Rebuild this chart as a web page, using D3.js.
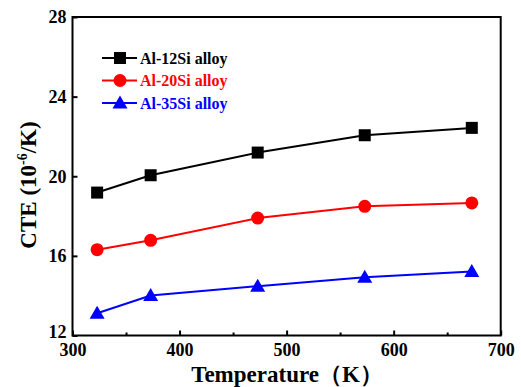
<!DOCTYPE html>
<html><head><meta charset="utf-8">
<script src="https://cdn.jsdelivr.net/npm/d3@7"></script>
<style>body{margin:0;background:#fff}svg{display:block}</style>
</head><body>
<svg id="c" width="521" height="387"></svg>
<script>
const temps = [323, 373, 473, 573, 673];
const al12 = [19.18, 20.05, 21.19, 22.06, 22.43];
const al20 = [16.31, 16.78, 17.90, 18.49, 18.66];
const al35 = [13.12, 14.01, 14.48, 14.93, 15.22];
const seriesNames = ["Al-12Si alloy", "Al-20Si alloy", "Al-35Si alloy"];
const xTicks = [300, 400, 500, 600, 700];
const yTicks = [12, 16, 20, 24, 28];

const svg = d3.select("#c");
const L = 72.5, R = 500.7, T = 17, B = 335.5;
const x = d3.scaleLinear().domain([300, 700]).range([L, R]);
const y = d3.scaleLinear().domain([12, 28]).range([B, T]);
const font = "'Liberation Serif','DejaVu Serif','Times New Roman',serif";

const series = [
  {name: seriesNames[0], vals: al12, color: "#000000", shape: "square"},
  {name: seriesNames[1], vals: al20, color: "#ff0000", shape: "circle"},
  {name: seriesNames[2], vals: al35, color: "#0000ff", shape: "triangle"}
];

function marker(g, shape, cx, cy, color) {
  if (shape === "square") g.append("rect").attr("x", cx-6).attr("y", cy-6).attr("width", 12).attr("height", 12).attr("fill", color);
  else if (shape === "circle") g.append("circle").attr("cx", cx).attr("cy", cy).attr("r", 6.5).attr("fill", color);
  else g.append("path").attr("d", `M${cx},${cy-7.5}L${cx+7.5},${cy+5.5}L${cx-7.5},${cy+5.5}Z`).attr("fill", color);
}

// axes frame
svg.append("rect").attr("x", L).attr("y", T).attr("width", R-L).attr("height", B-T)
  .attr("fill", "none").attr("stroke", "#000").attr("stroke-width", 2);

// x axis ticks (inward)
const xAxis = d3.axisBottom(x).tickValues(xTicks).tickSize(-5).tickFormat(d3.format("d")).tickPadding(8);
const gx = svg.append("g").attr("transform", `translate(0,${B})`).call(xAxis);
gx.select(".domain").remove();
gx.selectAll(".tick line").attr("stroke-width", 2);
gx.selectAll("text").attr("font-family", font).attr("font-weight", "bold").attr("font-size", 18).attr("fill", "#000");
const gxm = svg.append("g").attr("transform", `translate(0,${B})`)
  .call(d3.axisBottom(x).tickValues([350, 450, 550, 650]).tickSize(-3).tickFormat(""));
gxm.select(".domain").remove();
gxm.selectAll(".tick line").attr("stroke-width", 2);

// y axis ticks
const yAxis = d3.axisLeft(y).tickValues(yTicks).tickSize(-5).tickFormat(d3.format("d")).tickPadding(6);
const gy = svg.append("g").attr("transform", `translate(${L},0)`).call(yAxis);
gy.select(".domain").remove();
gy.selectAll(".tick line").attr("stroke-width", 2);
gy.selectAll("text").attr("font-family", font).attr("font-weight", "bold").attr("font-size", 18).attr("fill", "#000");
gy.selectAll(".tick").filter(d => d === 12).select("text").attr("dy", "0.1em");

// lines and markers
const line = d3.line().x((d, i) => x(temps[i])).y(d => y(d));
series.forEach(s => {
  svg.append("path").datum(s.vals).attr("d", line).attr("fill", "none")
    .attr("stroke", s.color).attr("stroke-width", 2);
  const g = svg.append("g");
  s.vals.forEach((v, i) => marker(g, s.shape, x(temps[i]), y(v), s.color));
});

// legend
series.forEach((s, i) => {
  const ly = 58 + i * 22.5;
  svg.append("line").attr("x1", 102).attr("x2", 137).attr("y1", ly).attr("y2", ly)
    .attr("stroke", s.color).attr("stroke-width", 2);
  marker(svg, s.shape, 120, ly, s.color);
  svg.append("text").attr("x", 140).attr("y", ly).attr("dy", "0.35em")
    .attr("font-family", font).attr("font-weight", "bold").attr("font-size", 16)
    .attr("fill", s.color).text(s.name);
});

// axis labels
svg.append("text").attr("x", 287).attr("y", 382).attr("text-anchor", "middle")
  .attr("font-family", font).attr("font-weight", "bold").attr("font-size", 23)
  .text("Temperature（K）");
const yl = svg.append("text").attr("transform", `translate(36,185) rotate(-90)`)
  .attr("text-anchor", "middle").attr("font-family", font).attr("font-weight", "bold").attr("font-size", 23);
yl.append("tspan").text("CTE (10");
yl.append("tspan").attr("dy", -9).attr("font-size", 14).text("-6");
yl.append("tspan").attr("dy", 9).text("/K)");
</script>
</body></html>
